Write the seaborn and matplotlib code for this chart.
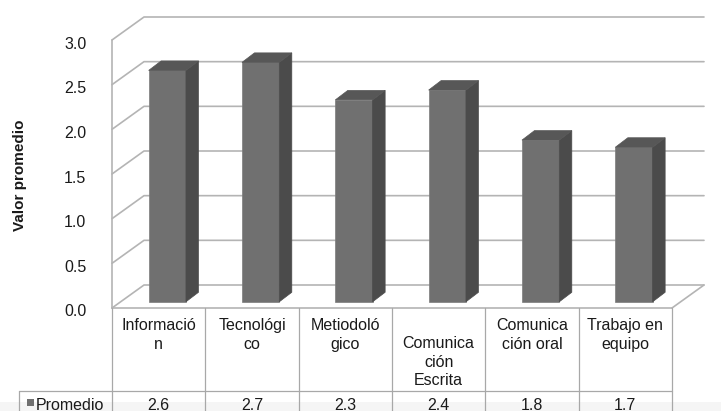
import pandas as pd
import seaborn as sns
import matplotlib.pyplot as plt
from matplotlib.patches import Polygon, Rectangle
from matplotlib.transforms import ScaledTranslation

# data
categories = ["Información", "Tecnológico", "Metiodológico",
              "Comunicación Escrita", "Comunicación oral", "Trabajo en equipo"]
header_labels = ["Informació\nn", "Tecnológi\nco", "Metiodoló\ngico",
                 "Comunica\nción\nEscrita", "Comunica\nción oral", "Trabajo en\nequipo"]
values = [2.59, 2.68, 2.26, 2.37, 1.81, 1.73]
series_name = "Promedio"
y_ticks = [0.0, 0.5, 1.0, 1.5, 2.0, 2.5, 3.0]

FRONT = "#707070"
SIDE = "#4b4b4b"
TOP = "#575757"
GRID = "#b4b4b4"
TABLE = "#a8a8a8"
TEXT = "#1a1a1a"

W, H = 721, 411

sns.set_theme(style="white")
plt.rcParams['font.family'] = ['Liberation Sans', 'DejaVu Sans']

fig = plt.figure(figsize=(W / 100, H / 100), dpi=100)
ax = fig.add_axes([112 / W, (H - 308) / H, 560 / W, 268 / H])

df = pd.DataFrame({"Competencia": categories, series_name: values})
sns.barplot(data=df, x="Competencia", y=series_name, color=FRONT, saturation=1,
            width=0.4, edgecolor="#7c7c7c", linewidth=0.5, ax=ax, zorder=3)

ax.set_xlim(-0.5, len(categories) - 0.5)
ax.set_ylim(0, 3)
n = len(categories)

# pixel -> data helpers (layout only)
ppx = ax.bbox.width / n
ppy = ax.bbox.height / 3.0


def xd(px):
    return (px - ax.bbox.x0) / ppx - 0.5


def yd(py):
    return (H - py - ax.bbox.y0) / ppy


# 3D depth of the box and of the bars
Dx, Dy = 32 / ppx, 23 / ppy
fx, fy = 0.27 * Dx, 0.27 * Dy
bx, by = 12.5 / ppx, 9.5 / ppy

for p in ax.patches:
    x0 = p.get_x() + fx
    top = p.get_height() + fy
    p.set_x(x0)
    p.set_y(fy)
    x1 = x0 + p.get_width()
    ax.add_patch(Polygon([(x1, fy), (x1 + bx, fy + by), (x1 + bx, top + by), (x1, top)],
                         closed=True, facecolor=SIDE, edgecolor=SIDE, lw=0.5, zorder=3))
    ax.add_patch(Polygon([(x0, top), (x0 + bx, top + by), (x1 + bx, top + by), (x1, top)],
                         closed=True, facecolor=TOP, edgecolor=TOP, lw=0.5, zorder=3))

# walls and gridlines
for v in y_ticks:
    ax.plot([-0.5, -0.5 + Dx, n - 0.5 + Dx], [v, v + Dy, v + Dy],
            color=GRID, lw=1.2, clip_on=False, zorder=1)
ax.plot([-0.5, -0.5], [0, 3], color=GRID, lw=1.2, clip_on=False, zorder=1)
ax.plot([n - 0.5, n - 0.5 + Dx], [0, Dy], color=GRID, lw=1.2, clip_on=False, zorder=1)

# data table under the chart
ax.add_patch(Rectangle((xd(0), yd(412)), xd(W) - xd(0), yd(402) - yd(412),
                       facecolor="#f5f5f5", edgecolor="none", clip_on=False, zorder=0))
ax.plot([-0.5, n - 0.5], [0, 0], color=GRID, lw=1.2, clip_on=False, zorder=2)
ax.plot([xd(19), n - 0.5], [yd(391), yd(391)], color=TABLE, lw=0.9, clip_on=False, zorder=2)
for k in range(n + 1):
    ax.plot([k - 0.5, k - 0.5], [0, yd(412)], color=TABLE, lw=0.9, clip_on=False, zorder=2)
ax.plot([xd(19), xd(19)], [yd(391), yd(412)], color=TABLE, lw=0.9, clip_on=False, zorder=2)

for k, lab in enumerate(header_labels):
    cy = 362 if lab.count("\n") == 2 else 335
    ax.text(k, yd(cy), lab, ha="center", va="center", fontsize=11.5,
            linespacing=1.3, color=TEXT, clip_on=False)
for k, v in enumerate(values):
    ax.text(k, yd(405), f"{v:.1f}", ha="center", va="center", fontsize=11.5,
            color=TEXT, clip_on=False)
ax.add_patch(Rectangle((xd(27), yd(406)), 7 / ppx, 7 / ppy, facecolor=FRONT,
                       edgecolor="none", clip_on=False, zorder=2))
ax.text(xd(36), yd(405), series_name, ha="left", va="center", fontsize=11.5,
        color=TEXT, clip_on=False)

# axes styling
ax.set_xticks([])
ax.set_xlabel("")
ax.set_yticks(y_ticks)
ax.set_yticklabels([f"{t:.1f}" for t in y_ticks])
ax.tick_params(axis="y", length=0, pad=18.5, labelsize=11.5, labelcolor=TEXT)
for lbl in ax.get_yticklabels():
    lbl.set_transform(lbl.get_transform() + ScaledTranslation(0, -0.025, fig.dpi_scale_trans))
for s in ax.spines.values():
    s.set_visible(False)
ax.set_facecolor("none")
ax.set_ylabel("Valor promedio", fontsize=11, fontweight="bold", color=TEXT)
ax.yaxis.set_label_coords(-0.152, 0.496)

ax.set_xlim(-0.5, n - 0.5)
ax.set_ylim(0, 3)

fig.savefig("out.png", dpi=100)
